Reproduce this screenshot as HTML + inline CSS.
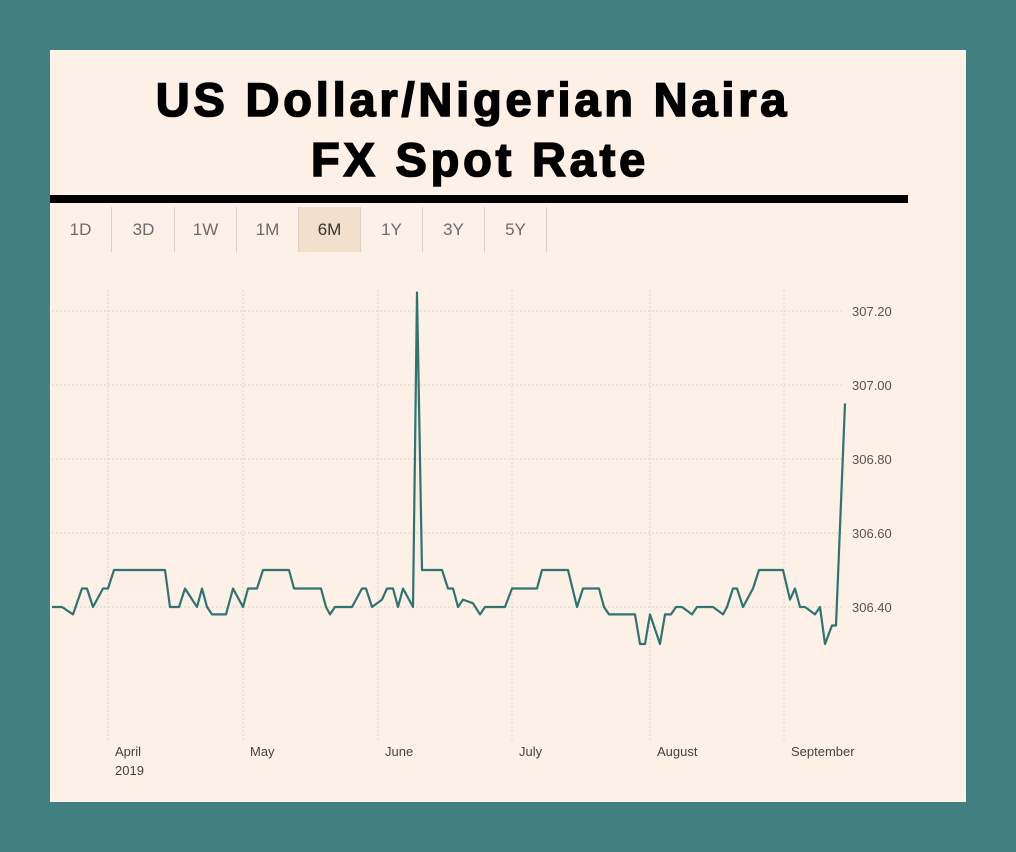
<!DOCTYPE html>
<html><head><meta charset="utf-8"><style>
body{margin:0;width:1016px;height:852px;background:#427f80;overflow:hidden;font-family:"Liberation Sans",sans-serif}
#panel{position:absolute;left:50px;top:50px;width:916px;height:752px;background:#fdf1e7}
.t{position:absolute;left:0;width:916px;text-align:center;font-weight:bold;font-size:47px;color:#000;letter-spacing:3.8px;-webkit-text-stroke:1.6px #000}
#rule{position:absolute;left:0;top:145px;width:858px;height:8px;background:#000}
.tab{position:absolute;top:157px;width:62px;height:45px;line-height:45px;text-align:center;font-size:17px;color:#6b6b6b;border-right:1px solid #ddcfc2;box-sizing:border-box}
.tab.on{background:#f2dfcc;color:#333}
</style></head><body>
<div id="panel">
<div class="t" style="top:22px;left:-35px">US Dollar/Nigerian Naira</div>
<div class="t" style="top:82px;left:-28px">FX Spot Rate</div>
<div id="rule"></div>
<div class="tab" style="left:0">1D</div>
<div class="tab" style="left:63px">3D</div>
<div class="tab" style="left:125px">1W</div>
<div class="tab" style="left:187px">1M</div>
<div class="tab on" style="left:249px">6M</div>
<div class="tab" style="left:311px">1Y</div>
<div class="tab" style="left:373px">3Y</div>
<div class="tab" style="left:435px">5Y</div>
</div>
<svg id="chart" width="1016" height="852" style="position:absolute;left:0;top:0">
<defs><linearGradient id="g" x1="0" y1="0" x2="0" y2="1"><stop offset="0" stop-color="#e9e3d9" stop-opacity="1"/><stop offset="1" stop-color="#fdf1e7" stop-opacity="0"/></linearGradient></defs>
</svg>
<script>
const days=[0,2,4.2,6,7,8.2,10.2,11.2,12.4,22.6,23.6,25.4,26.6,29,30,31,32,34.8,36.2,38.2,39.2,41,42.2,47.4,48.4,53.8,54.8,55.6,56.6,60,62,62.8,64,66,67,68.2,69.2,70.2,72.2,73,74,78,79.2,80.2,81.2,82.2,84.2,85.6,86.6,90.6,92,97,98,103.2,105,106.2,109.4,110.4,111.4,116.6,117.6,118.6,119.6,121.6,122.6,123.8,124.8,126,128,129,132.2,134.2,135,136.2,137,138.2,140.2,141.4,146.2,147.6,148.6,149.6,150.6,152.6,153.6,154.6,156,156.8,158.6];
const rates=[306.40,306.40,306.38,306.45,306.45,306.40,306.45,306.45,306.50,306.50,306.40,306.40,306.45,306.40,306.45,306.40,306.38,306.38,306.45,306.40,306.45,306.45,306.50,306.50,306.45,306.45,306.40,306.38,306.40,306.40,306.45,306.45,306.40,306.42,306.45,306.45,306.40,306.45,306.40,307.25,306.50,306.50,306.45,306.45,306.40,306.42,306.41,306.38,306.40,306.40,306.45,306.45,306.50,306.50,306.40,306.45,306.45,306.40,306.38,306.38,306.30,306.30,306.38,306.30,306.38,306.38,306.40,306.40,306.38,306.40,306.40,306.38,306.40,306.45,306.45,306.40,306.45,306.50,306.50,306.42,306.45,306.40,306.40,306.38,306.40,306.30,306.35,306.35,306.95];
const yTicks=[307.20,307.00,306.80,306.60,306.40];
const yTickLabels=["307.20","307.00","306.80","306.60","306.40"];
const monthDays=[11.2,38.2,65.2,92,119.6,146.4];
const monthLabels=["April","May","June","July","August","September"];
const X=d=>52+d*5, Y=v=>607-(v-306.40)*370;
const svg=document.getElementById('chart'),NS='http://www.w3.org/2000/svg';
function mk(t,a){const e=document.createElementNS(NS,t);for(const k in a)e.setAttribute(k,a[k]);svg.appendChild(e);return e;}
let p=days.map((d,i)=>(i?'L':'M')+X(d)+','+Y(rates[i])).join('');
const area=mk('path',{d:p+'L'+X(days[days.length-1])+',650L'+X(0)+',650Z',fill:'url(#g)'});


yTicks.forEach((v,i)=>{
 const l=mk('line',{x1:52,x2:843,y1:Y(v),y2:Y(v),stroke:'#ddd3c8','stroke-dasharray':'2,2'});
 
 
 const t=mk('text',{x:852,y:Y(v)+5,'font-size':13,fill:'#555','font-family':'Liberation Sans, sans-serif'});
 t.textContent=yTickLabels[i];
 
 
});
monthDays.forEach((d,i)=>{
 const l=mk('line',{x1:X(d),x2:X(d),y1:290,y2:742,stroke:'#ddd3c8','stroke-dasharray':'2,2'});
 
 
 const t=mk('text',{x:X(d)+7,y:756,'font-size':13,fill:'#444','font-family':'Liberation Sans, sans-serif'});
 t.textContent=monthLabels[i];
 
 
});
const yr=mk('text',{x:X(monthDays[0])+7,y:775,'font-size':13,fill:'#444','font-family':'Liberation Sans, sans-serif'});
yr.textContent='2019';


const line=mk('path',{d:p,fill:'none',stroke:'#2e7473','stroke-width':2.2,'stroke-linejoin':'round'});


</script>
</body></html>
